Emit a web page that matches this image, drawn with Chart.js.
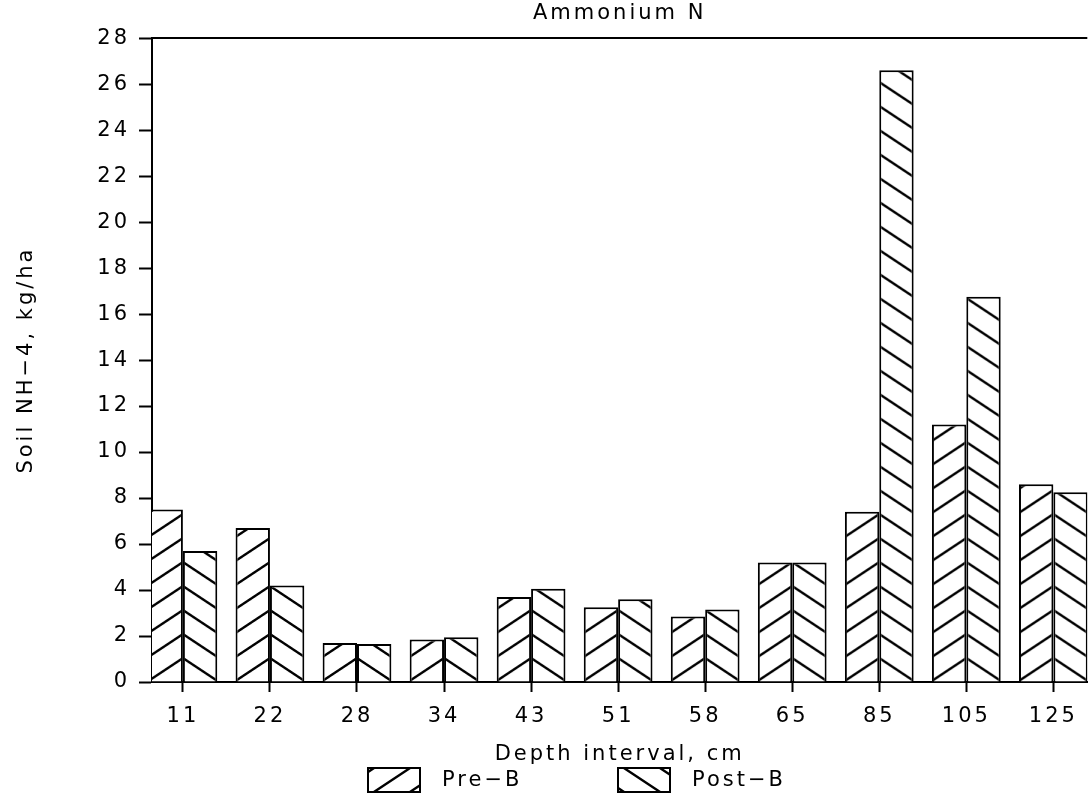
<!DOCTYPE html>
<html>
<head>
<meta charset="utf-8">
<script src="https://cdn.jsdelivr.net/npm/chart.js@4/dist/chart.umd.min.js"></script>
<style>
    body { margin: 0; background: #fff; overflow: hidden; }
    #ammoniumChart { display: block; }
</style>
</head>
<body>
<canvas id="ammoniumChart" width="1090" height="796"></canvas>
<script>
// depth intervals (cm) and soil NH4 values (kg/ha)
const depths = ["11", "22", "28", "34", "43", "51", "58", "65", "85", "105", "125"];
const preB = [7.5, 6.7, 1.7, 1.85, 3.7, 3.25, 2.85, 5.2, 7.4, 11.2, 8.6];
const postB = [5.7, 4.2, 1.65, 1.95, 4.05, 3.6, 3.15, 5.2, 26.6, 16.75, 8.25];
const seriesNames = ["Pre\u2212B", "Post\u2212B"];
const yMax = 28;
const yStep = 2;

const fontFamily = "'DejaVu Sans', sans-serif";
const fontSize = 21;
const spacing = "3px";

// hatch tile: dir 1 = "/" , dir -1 = "\"
function makeHatch(dir, tx, ty) {
    const w = 36, h = 24;
    const tile = document.createElement("canvas");
    tile.width = w;
    tile.height = h;
    const g = tile.getContext("2d");
    g.fillStyle = "#fff";
    g.fillRect(0, 0, w, h);
    g.strokeStyle = "#000";
    g.lineWidth = 2.3;
    g.beginPath();
    for (let k = -1; k <= 1; k++) {
        if (dir > 0) {
            g.moveTo(-w, 2 * h + k * h);
            g.lineTo(2 * w, -h + k * h);
        } else {
            g.moveTo(-w, -h + k * h);
            g.lineTo(2 * w, 2 * h + k * h);
        }
    }
    g.stroke();
    const pattern = g.createPattern(tile, "repeat");
    pattern.setTransform(new DOMMatrix([1, 0, 0, 1, tx, ty]));
    return pattern;
}

function hatchFor(dir) {
    return function (ctx) {
        const chart = ctx.chart;
        const xs = chart.scales.x;
        const ys = chart.scales.y;
        if (!xs || !ys || ctx.type !== "data") {
            return makeHatch(dir, 0, 0);
        }
        return makeHatch(dir, xs.getPixelForValue(ctx.dataIndex), ys.getPixelForValue(0));
    };
}

const letterSpacingPlugin = {
    id: "letterSpacing",
    beforeUpdate(chart) { chart.ctx.letterSpacing = spacing; },
    beforeLayout(chart) { chart.ctx.letterSpacing = spacing; },
    beforeDraw(chart) { chart.ctx.letterSpacing = spacing; }
};

// top frame line and the hatched legend under the x title
const framePlugin = {
    id: "frame",
    afterDraw(chart) {
        const ctx = chart.ctx;
        const area = chart.chartArea;
        ctx.save();
        ctx.strokeStyle = "#000";
        ctx.lineWidth = 2;
        ctx.beginPath();
        ctx.moveTo(area.left, area.top);
        ctx.lineTo(area.right, area.top);
        ctx.stroke();

        const boxes = [{ x: 368, dir: 1 }, { x: 618, dir: -1 }];
        const boxY = 768, boxW = 52, boxH = 24;
        ctx.font = fontSize + "px " + fontFamily;
        ctx.textBaseline = "middle";
        ctx.textAlign = "left";
        boxes.forEach(function (b, i) {
            ctx.fillStyle = makeHatch(b.dir, b.x + 6, boxY + boxH);
            ctx.fillRect(b.x, boxY, boxW, boxH);
            ctx.lineWidth = 2;
            ctx.strokeRect(b.x, boxY, boxW, boxH);
            ctx.fillStyle = "#000";
            ctx.fillText(seriesNames[i], b.x + boxW + 22, boxY + boxH / 2 + 1);
        });
        ctx.restore();
    }
};

const ammoniumChart = new Chart(document.getElementById("ammoniumChart"), {
    type: "bar",
    data: {
        datasets: [{
            label: seriesNames[0],
            data: preB.map(function (v, i) { return { x: i, y: v }; }),
            backgroundColor: hatchFor(1),
            borderColor: "#000",
            borderWidth: 2
        }, {
            label: seriesNames[1],
            data: postB.map(function (v, i) { return { x: i, y: v }; }),
            backgroundColor: hatchFor(-1),
            borderColor: "#000",
            borderWidth: 2
        }]
    },
    options: {
        responsive: false,
        animation: false,
        categoryPercentage: 0.79,
        barPercentage: 1,
        layout: {
            padding: { left: 0, right: 0, top: 0, bottom: 29 }
        },
        plugins: {
            legend: { display: false },
            tooltip: { enabled: false },
            title: {
                display: true,
                text: "Ammonium N",
                fullSize: false,
                color: "#000",
                font: { family: fontFamily, size: fontSize, weight: "normal", lineHeight: 1.1 },
                padding: { top: 2, bottom: 13 }
            }
        },
        scales: {
            x: {
                type: "linear",
                offset: false,
                min: -0.355,
                max: 10.39,
                afterFit: function (scale) { scale.height = 85; },
                afterBuildTicks: function (scale) {
                    scale.ticks = depths.map(function (d, i) { return { value: i }; });
                },
                ticks: {
                    autoSkip: false,
                    maxRotation: 0,
                    padding: 12,
                    color: "#000",
                    font: { family: fontFamily, size: fontSize },
                    callback: function (value) { return depths[value]; }
                },
                grid: {
                    offset: false,
                    drawOnChartArea: false,
                    drawTicks: true,
                    tickLength: 10,
                    tickWidth: 2,
                    color: "#000"
                },
                border: { display: true, color: "#000", width: 2 },
                title: {
                    display: true,
                    text: "Depth interval, cm",
                    color: "#000",
                    font: { family: fontFamily, size: fontSize },
                    padding: { top: 0, bottom: 0 }
                }
            },
            y: {
                min: 0,
                max: yMax,
                afterFit: function (scale) { scale.width = 152; },
                ticks: {
                    stepSize: yStep,
                    padding: 9,
                    color: "#000",
                    font: { family: fontFamily, size: fontSize }
                },
                grid: {
                    drawOnChartArea: false,
                    drawTicks: true,
                    tickLength: 13,
                    tickWidth: 2,
                    color: "#000"
                },
                border: { display: true, color: "#000", width: 2 },
                title: {
                    display: true,
                    text: "Soil NH\u22124, kg/ha",
                    color: "#000",
                    font: { family: fontFamily, size: fontSize },
                    padding: { top: 14, bottom: 0 }
                }
            }
        }
    },
    plugins: [letterSpacingPlugin, framePlugin]
});
</script>
</body>
</html>
